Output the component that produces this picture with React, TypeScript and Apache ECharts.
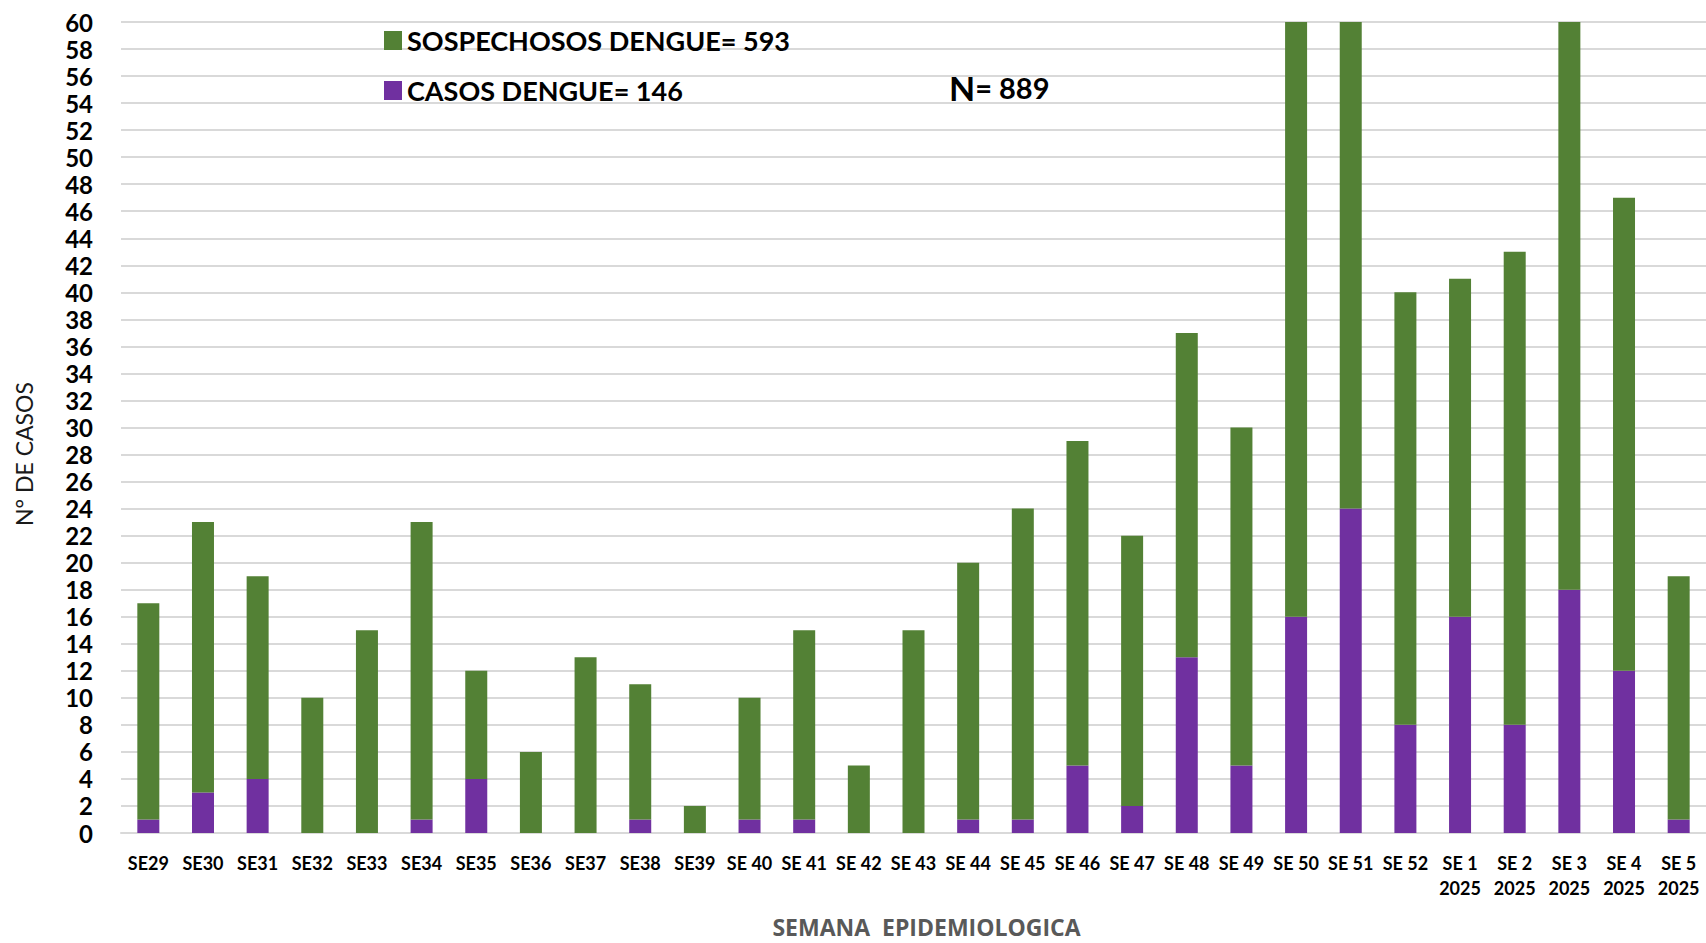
import React, { useEffect, useRef } from "react";
import * as echarts from "echarts";

const categories = [
  "SE29", "SE30", "SE31", "SE32", "SE33", "SE34", "SE35", "SE36", "SE37", "SE38",
  "SE39", "SE 40", "SE 41", "SE 42", "SE 43", "SE 44", "SE 45", "SE 46", "SE 47", "SE 48",
  "SE 49", "SE 50", "SE 51", "SE 52", "SE 1\n2025", "SE 2\n2025", "SE 3\n2025", "SE 4\n2025", "SE 5\n2025",
];

// Confirmed cases (bottom, purple)
const casos = [1, 3, 4, 0, 0, 1, 4, 0, 0, 1, 0, 1, 1, 0, 0, 1, 1, 5, 2, 13, 5, 16, 24, 8, 16, 8, 18, 12, 1];
// Suspected cases (stacked on top, green)
const sospechosos = [16, 20, 15, 10, 15, 22, 8, 6, 13, 10, 2, 9, 14, 5, 15, 19, 23, 24, 20, 24, 25, 48, 40, 32, 25, 35, 45, 35, 18];

const legendSospechosos = "SOSPECHOSOS DENGUE= 593";
const legendCasos = "CASOS DENGUE= 146";
const totalLabel = "889";
const yAxisTitle = "N° DE CASOS";
const xAxisTitle = "SEMANA  EPIDEMIOLOGICA";

const FONT = "Lato, 'Open Sans', sans-serif";

export default function App() {
  const ref = useRef<HTMLDivElement>(null);

  useEffect(() => {
    if (!ref.current) return;
    const chart = echarts.init(ref.current, null, { renderer: "svg" });
    chart.setOption({
      animation: false,
      backgroundColor: "#ffffff",
      textStyle: { fontFamily: FONT },
      grid: { left: 121, right: -4, top: 22, bottom: 101, containLabel: false },
      legend: {
        orient: "vertical",
        left: 379,
        top: 20,
        itemWidth: 18,
        itemHeight: 19,
        itemGap: 19,
        icon: "rect",
        data: [legendSospechosos, legendCasos],
        textStyle: {
          fontFamily: FONT,
          fontWeight: "bold",
          fontSize: 27,
          color: "#000000",
          lineHeight: 31,
          padding: [0, 0, 0, 0],
        },
        selectedMode: false,
      },
      graphic: [
        {
          type: "text",
          left: 949,
          top: 70,
          style: {
            text: "{n|N}{r|= " + totalLabel + "}",
            rich: {
              n: { fontFamily: FONT, fontWeight: "bold", fontSize: 34, fill: "#000" },
              r: { fontFamily: FONT, fontWeight: "bold", fontSize: 29, fill: "#000" },
            },
          },
        },
        {
          type: "text",
          x: 24,
          y: 454,
          rotation: Math.PI / 2,
          style: {
            text: yAxisTitle,
            fontFamily: FONT,
            fontSize: 23,
            fill: "#1a1a1a",
            textAlign: "center",
            textVerticalAlign: "middle",
          },
        },
      ],
      xAxis: {
        type: "category",
        data: categories,
        name: xAxisTitle,
        nameLocation: "middle",
        nameGap: 82,
        nameTextStyle: {
          fontFamily: "'Open Sans', Lato, sans-serif",
          fontWeight: "bold",
          fontSize: 23,
          color: "#595959",
          padding: [0, 0, 0, 26],
        },
        axisLine: { show: true, lineStyle: { color: "#d9d9d9", width: 2 } },
        axisTick: { show: false },
        axisLabel: {
          interval: 0,
          margin: 17,
          fontFamily: FONT,
          fontWeight: "bold",
          fontSize: 18,
          lineHeight: 25,
          color: "#000000",
        },
      },
      yAxis: {
        type: "value",
        min: 0,
        max: 60,
        interval: 2,
        axisLine: { show: false },
        axisTick: { show: false },
        axisLabel: {
          margin: 28,
          fontFamily: FONT,
          fontWeight: "bold",
          fontSize: 24,
          color: "#000000",
        },
        splitLine: { show: true, lineStyle: { color: "#d9d9d9", width: 2 } },
      },
      series: [
        {
          name: legendCasos,
          type: "bar",
          stack: "total",
          data: casos,
          barWidth: 22,
          clip: true,
          itemStyle: { color: "#7030a0" },
        },
        {
          name: legendSospechosos,
          type: "bar",
          stack: "total",
          data: sospechosos,
          barWidth: 22,
          clip: true,
          itemStyle: { color: "#538135" },
        },
      ],
    });
    return () => chart.dispose();
  }, []);

  return (
    <div
      ref={ref}
      style={{ position: "fixed", left: 0, top: 0, width: 1706, height: 943 }}
    />
  );
}
